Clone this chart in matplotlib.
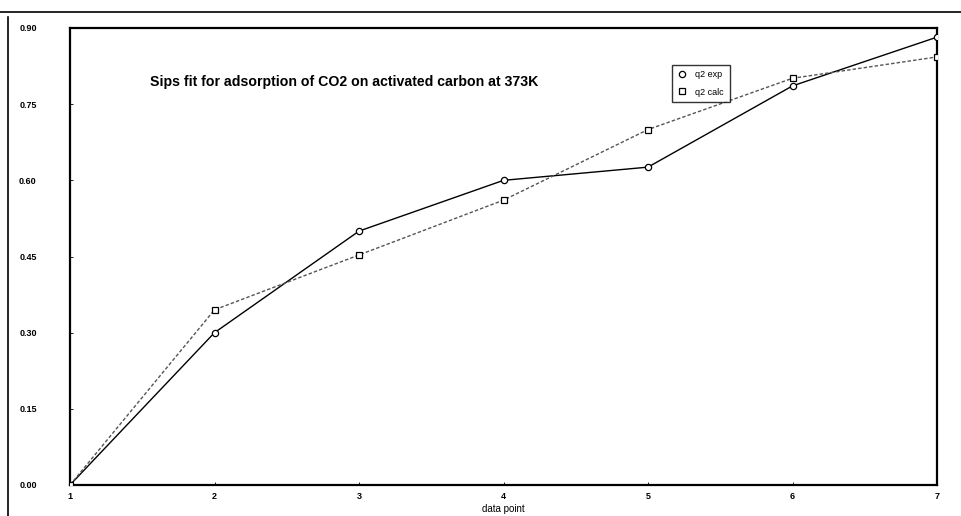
import matplotlib
matplotlib.use("Agg")
import matplotlib.pyplot as plt
from matplotlib.lines import Line2D

plt.rcParams['font.family'] = ['Liberation Sans', 'DejaVu Sans']

# data
data_point = [1, 2, 3, 4, 5, 6, 7]
q2_exp = [0.00, 0.30, 0.50, 0.60, 0.626, 0.786, 0.882]
q2_calc = [0.00, 0.345, 0.453, 0.561, 0.70, 0.801, 0.843]
y_ticks = [0.00, 0.15, 0.30, 0.45, 0.60, 0.75, 0.90]
y_tick_labels = ["0.00", "0.15", "0.30", "0.45", "0.60", "0.75", "0.90"]
x_ticks = [1, 2, 3, 4, 5, 6, 7]
x_tick_labels = ["1", "2", "3", "4", "5", "6", "7"]
title = "Sips fit for adsorption of CO2 on activated carbon at 373K"
series_names = ["q2 exp", "q2 calc"]
x_label = "data point"

W, H = 961, 516
fig = plt.figure(figsize=(W / 100, H / 100), dpi=100)
fig.patch.set_facecolor("white")

left, right, top, bottom = 70, 937, 28, 485
ax = fig.add_axes([left / W, 1 - bottom / H, (right - left) / W, (bottom - top) / H])

ax.plot(data_point, q2_exp, color="black", lw=1.0, ls="-",
        marker="o", ms=4.5, mfc="white", mec="black", mew=0.9, zorder=3)
ax.plot(data_point, q2_calc, color="#555555", lw=1.0, ls=(0, (2.5, 1.5)),
        marker="s", ms=4.5, mfc="white", mec="black", mew=0.9, zorder=3)

ax.set_xlim(1, 7)
ax.set_ylim(0, 0.90)
ax.set_xticks(x_ticks)
ax.set_xticklabels(x_tick_labels)
ax.set_yticks(y_ticks)
ax.set_yticklabels(y_tick_labels)
ax.tick_params(axis="both", direction="in", length=2, width=0.6,
               labelsize=6.5, colors="black")
ax.tick_params(axis="y", pad=24)
ax.tick_params(axis="x", pad=5)
for lab in ax.get_xticklabels() + ax.get_yticklabels():
    lab.set_fontweight("bold")
for s in ax.spines.values():
    s.set_linewidth(1.6)
    s.set_color("black")

ax.set_xlabel(x_label, fontsize=7, labelpad=2)

fig.text(150 / W, 1 - 82 / H, title, fontsize=10.2, fontweight="bold",
         ha="left", va="center")

handles = [
    Line2D([], [], ls="none", marker="o", ms=4.5, mfc="white", mec="black", mew=0.9),
    Line2D([], [], ls="none", marker="s", ms=4.5, mfc="white", mec="black", mew=0.9),
]
leg = ax.legend(handles, series_names, loc="upper left",
                bbox_to_anchor=(672 / W, 1 - 65 / H), bbox_transform=fig.transFigure,
                fontsize=6.5, frameon=True, fancybox=False, handlelength=1.0,
                handletextpad=1.0, borderpad=0.6, labelspacing=0.9,
                borderaxespad=0)
leg.get_frame().set_edgecolor("black")
leg.get_frame().set_linewidth(1.0)

# page frame lines
fig.add_artist(Line2D([0, 1], [1 - 12 / H, 1 - 12 / H], transform=fig.transFigure,
                      color="black", lw=1.2))
fig.add_artist(Line2D([8 / W, 8 / W], [0, 1 - 17 / H], transform=fig.transFigure,
                      color="black", lw=1.2))

fig.savefig("out.png", dpi=100, facecolor="white")
